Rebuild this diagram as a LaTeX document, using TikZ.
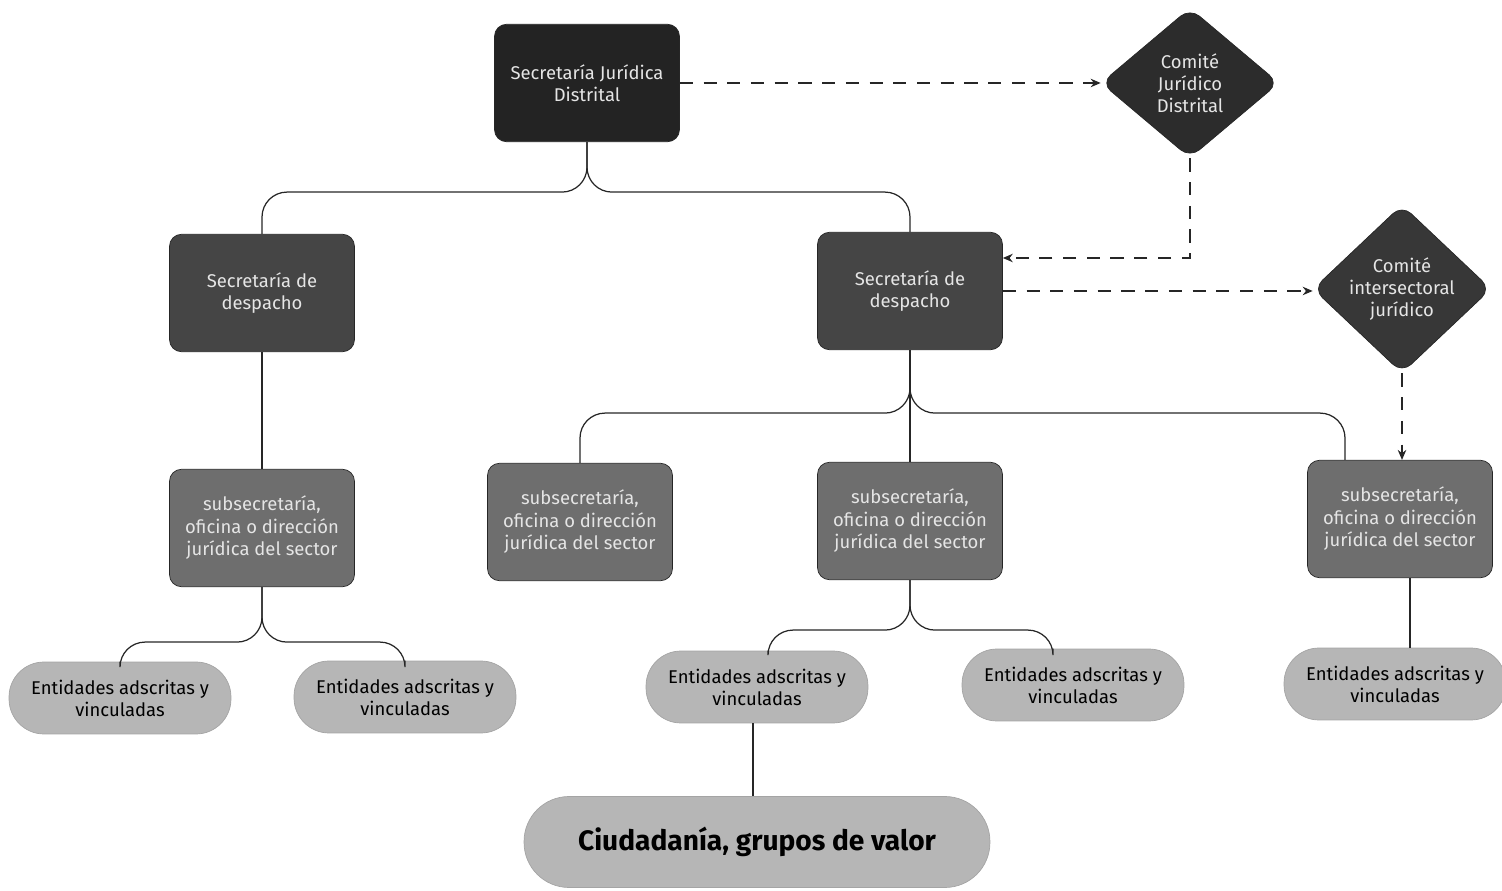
\documentclass[tikz,border=0pt]{standalone}
\usepackage{fontspec}
\setmainfont{Fira Sans}
\usetikzlibrary{shapes.geometric,arrows.meta}
\definecolor{cajaA}{HTML}{232323}
\definecolor{cajaB}{HTML}{454545}
\definecolor{cajaC}{HTML}{6E6E6E}
\definecolor{cajaD}{HTML}{B6B6B6}
\definecolor{rombo}{HTML}{2C2C2C}
\begin{document}
\begin{tikzpicture}[
        x=0.02cm, y=-0.02cm,       % una unidad = un pixel de la imagen
        % cajas oscuras con esquinas redondeadas
        caja/.style={
            rectangle,
            rounded corners=0.24cm,
            draw=black!85,
            thin,
            text=white!90!black,
            align=center,
            minimum width=3.7cm,
            minimum height=2.35cm,
            font=\fontsize{10.5}{12.8}\selectfont
        },
        % rombos de los comites
        comite/.style={
            diamond,
            rounded corners=0.25cm,
            draw=black!85,
            fill=rombo,
            text=white!90!black,
            align=center,
            inner sep=0pt,
            minimum width=3.56cm,
            minimum height=3cm,
            font=\fontsize{10.5}{12.5}\selectfont
        },
        % entidades en forma de pildora
        pildora/.style={
            rectangle,
            rounded corners=0.7cm,
            fill=cajaD,
            draw=cajaD!90!black,
            align=center,
            minimum width=4.44cm,
            minimum height=1.44cm,
            font=\fontsize{10.5}{12.5}\selectfont
        },
        % conexiones
        rama/.style={draw=black!85, line width=0.7pt, rounded corners=0.5cm},
        guion/.style={draw=black!85, line width=0.7pt, dash pattern=on 7.5pt off 6pt,
            -{Stealth[length=2mm,width=1.7mm]}}
    ]
    \useasboundingbox (0,0) rectangle (1502,891);

    % --- nivel distrital ---
    \node[caja, fill=cajaA] (sjd) at (587,83) {Secretaría Jurídica\\Distrital};
    \node[comite] (cjd) at (1190,83) {Comité\\Jurídico\\Distrital};

    % --- secretarias de despacho ---
    \node[caja, fill=cajaB] (sdl) at (262,293) {Secretaría de\\despacho};
    \node[caja, fill=cajaB] (sdr) at (910,291) {Secretaría de\\despacho};
    \node[comite, fill=cajaB!80!black] (cij) at (1402,289) {Comité\\intersectoral\\jurídico};

    % --- oficinas juridicas ---
    \node[caja, fill=cajaC] (subl) at (262,528) {subsecretaría,\\oficina o dirección\\jurídica del sector};
    \node[caja, fill=cajaC] (subm1) at (580,522) {subsecretaría,\\oficina o dirección\\jurídica del sector};
    \node[caja, fill=cajaC] (subm2) at (910,521) {subsecretaría,\\oficina o dirección\\jurídica del sector};
    \node[caja, fill=cajaC] (subr) at (1400,519) {subsecretaría,\\oficina o dirección\\jurídica del sector};

    % --- entidades ---
    \node[pildora] (enta) at (120,698) {Entidades adscritas y\\vinculadas};
    \node[pildora] (entb) at (405,697) {Entidades adscritas y\\vinculadas};
    \node[pildora] (entc) at (757,687) {Entidades adscritas y\\vinculadas};
    \node[pildora] (entd) at (1073,685) {Entidades adscritas y\\vinculadas};
    \node[pildora] (ente) at (1395,684) {Entidades adscritas y\\vinculadas};
    \node[pildora, minimum width=9.32cm, minimum height=1.82cm, rounded corners=0.9cm,
        font=\fontsize{16}{19}\selectfont\bfseries] (ciud) at (757,842) {Ciudadanía, grupos de valor};

    % --- ramas ---
    \draw[rama] (sjd.south) -- ++(0,50) -| (sdl.north);
    \draw[rama] (sjd.south) -- ++(0,50) -| (sdr.north);
    \draw[rama] (sdl.south) -- (subl.north);
    \draw[rama] (sdr.south) -- (subm2.north);
    \draw[rama] (sdr.south) -- ++(0,63) -| (subm1.north);
    \draw[rama] (sdr.south) -- ++(0,63) -| ([xshift=-1.1cm]subr.north);
    \draw[rama] (subl.south) -- ++(0,55) -| (enta.north);
    \draw[rama] (subl.south) -- ++(0,55) -| (entb.north);
    \draw[rama] (subm2.south) -- ++(0,50) -| ([xshift=0.22cm]entc.north);
    \draw[rama] (subm2.south) -- ++(0,50) -| ([xshift=-0.4cm]entd.north);
    \draw[rama] ([xshift=0.2cm]subr.south) -- ([xshift=0.2cm]subr.south |- ente.north);
    \draw[rama] ([xshift=-0.08cm]entc.south) -- ([xshift=-0.08cm]entc.south |- ciud.north);

    % --- relaciones de los comites ---
    \draw[guion] (sjd.east) -- (sjd.east -| cjd.west);
    \draw[guion] (cjd.south) |- ([yshift=0.66cm]sdr.east);
    \draw[guion] (sdr.east) -- (sdr.east -| cij.west);
    \draw[guion] (cij.south) -- (cij.south |- subr.north);
\end{tikzpicture}
\end{document}
